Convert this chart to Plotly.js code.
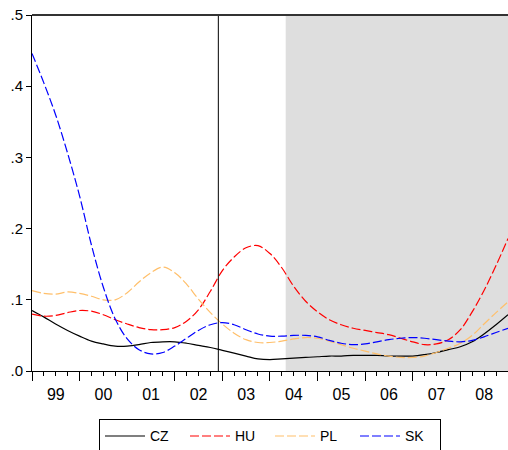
<!DOCTYPE html>
<html>
<head>
<meta charset="utf-8">
<script src="https://cdn.plot.ly/plotly-3.0.1.min.js"></script>
<style>html,body{margin:0;padding:0;background:#fff;} #chart{width:508px;height:450px;}</style>
</head>
<body>
<div id="chart"></div>
<script>
// Quarterly observations 1999Q1 .. 2009Q1 (start of quarter)
const startYear = 1999;
const nObs = 41;
const quarters = [];
for (let i = 0; i < nObs; i++) {
  const y = startYear + Math.floor(i / 4);
  const m = (i % 4) * 3 + 1;
  quarters.push(y + '-' + String(m).padStart(2, '0') + '-01');
}

const CZ = [0.085,0.076,0.066,0.057,0.049,0.042,0.038,0.035,0.035,0.037,
            0.040,0.041,0.041,0.039,0.036,0.033,0.029,0.025,0.021,0.017,
            0.016,0.017,0.018,0.019,0.020,0.021,0.021,0.022,0.022,0.022,
            0.021,0.021,0.021,0.023,0.026,0.030,0.034,0.041,0.052,0.065,0.079];
const HU = [0.080,0.077,0.078,0.082,0.085,0.084,0.079,0.072,0.066,0.061,
            0.058,0.058,0.061,0.070,0.086,0.112,0.141,0.160,0.173,0.176,
            0.165,0.145,0.119,0.098,0.083,0.072,0.065,0.060,0.057,0.054,
            0.051,0.046,0.041,0.037,0.038,0.044,0.058,0.083,0.113,0.148,0.186];
const PL = [0.113,0.109,0.108,0.111,0.109,0.105,0.100,0.100,0.110,0.125,
            0.138,0.146,0.138,0.122,0.101,0.082,0.066,0.053,0.044,0.040,
            0.040,0.042,0.045,0.047,0.046,0.042,0.037,0.032,0.028,0.024,
            0.021,0.019,0.019,0.021,0.026,0.032,0.039,0.050,0.066,0.082,0.097];
const SK = [0.446,0.405,0.360,0.306,0.246,0.177,0.118,0.073,0.045,0.030,
            0.024,0.026,0.035,0.046,0.057,0.065,0.068,0.065,0.058,0.052,
            0.049,0.049,0.050,0.050,0.048,0.043,0.039,0.037,0.038,0.041,
            0.044,0.046,0.047,0.046,0.044,0.042,0.041,0.043,0.048,0.054,0.060];

const yTickVals = [0, 0.1, 0.2, 0.3, 0.4, 0.5];
const yTickText = ['.0', '.1', '.2', '.3', '.4', '.5'];
const eventDate = '2002-12-01';
const shadeStart = '2004-05-01';
const xStart = '1999-01-01';
const xEnd = '2009-01-01';

const lineW = 1.2;
const traces = [
  {name: 'CZ', y: CZ, line: {color: '#000000', width: lineW, dash: 'solid'}},
  {name: 'HU', y: HU, line: {color: '#FF0000', width: lineW, dash: '9px,3px'}},
  {name: 'PL', y: PL, line: {color: '#FFBF6A', width: lineW, dash: '9px,3px'}},
  {name: 'SK', y: SK, line: {color: '#0000FF', width: lineW, dash: '9px,3px'}}
].map(t => Object.assign({
  x: quarters, type: 'scatter', mode: 'lines'
}, t, {line: Object.assign({shape: 'spline', smoothing: 1}, t.line)}));

const layout = {
  width: 508, height: 450,
  margin: {l: 32, r: 0, t: 15, b: 79, pad: 0},
  paper_bgcolor: '#ffffff', plot_bgcolor: '#ffffff',
  font: {family: 'Liberation Sans, Arial, sans-serif', size: 14, color: '#000'},
  showlegend: true,
  legend: {
    orientation: 'h', x: 0.5, xanchor: 'center',
    yref: 'container', y: 0.068, yanchor: 'top',
    bordercolor: '#000', borderwidth: 1, font: {size: 14},
    itemwidth: 40, entrywidth: 30, entrywidthmode: 'pixels', tracegroupgap: 0
  },
  xaxis: {
    type: 'date', range: [xStart, xEnd],
    tick0: xStart, dtick: 'M12', tickformat: '%y', ticklabelmode: 'period',
    ticks: 'outside', ticklen: 9, tickwidth: 1, tickcolor: '#000',
    minor: {dtick: 'M3', ticks: 'outside', ticklen: 4, tickwidth: 1, tickcolor: '#000', showgrid: false},
    showgrid: false, zeroline: false, showline: true, linecolor: '#000', linewidth: 1,
    automargin: false, fixedrange: true, tickfont: {size: 16}
  },
  yaxis: {
    range: [0, 0.5], tickvals: yTickVals, ticktext: yTickText,
    ticks: 'outside', ticklen: 5, tickwidth: 1, tickcolor: '#000',
    showgrid: false, zeroline: false, showline: true, linecolor: '#000', linewidth: 1,
    automargin: false, fixedrange: true, tickfont: {size: 15}
  },
  shapes: [
    {type: 'rect', xref: 'x', yref: 'paper', x0: shadeStart, x1: xEnd, y0: 0, y1: 1,
     fillcolor: '#DEDEDE', line: {width: 0}, layer: 'below'},
    {type: 'line', xref: 'x', yref: 'paper', x0: eventDate, x1: eventDate, y0: 0, y1: 1,
     line: {color: '#000', width: 1}, layer: 'above'},
    {type: 'line', xref: 'paper', yref: 'paper', x0: 0, x1: 1, y0: 1, y1: 1,
     line: {color: '#333', width: 2}, layer: 'above'}
  ]
};

Plotly.newPlot('chart', traces, layout, {displayModeBar: false, staticPlot: true});
</script>
</body>
</html>
